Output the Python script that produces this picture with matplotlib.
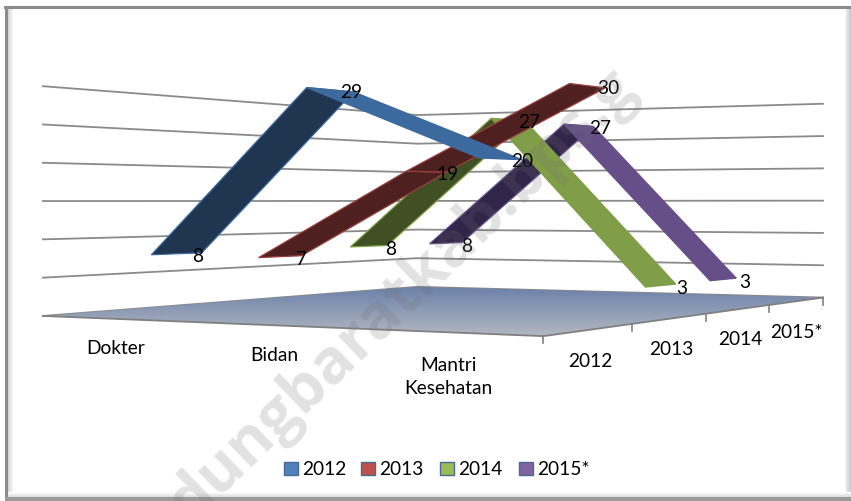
import numpy as np
import matplotlib
matplotlib.use("Agg")
import matplotlib.pyplot as plt
from matplotlib.colors import LinearSegmentedColormap
from matplotlib.patches import Polygon, Rectangle

categories = ["Dokter", "Bidan", "Mantri\nKesehatan"]
series_names = ["2012", "2013", "2014", "2015*"]
values_2012 = [8, 29, 20]
values_2013 = [7, 19, 30]
values_2014 = [8, 27, 3]
values_2015 = [8, 27, 3]
all_values = [values_2012, values_2013, values_2014, values_2015]

top_colors = ["#3d6a9e", "#96403c", "#7f9e47", "#664f88"]
dark_colors = ["#1f3550", "#4f2020", "#404f24", "#31254a"]
legend_colors = ["#4f81bd", "#c0504d", "#9bbb59", "#8064a2"]

plt.rcParams["font.family"] = ["Lato", "DejaVu Sans"]
FS = 13.8
Y_MAX = 30
GRID_STEP = 5
RIBBON = 0.45
CAT_SHIFT = 0.007  # categories sit slightly right of the slot centre

# anchors for the 3d view: (across, depth, value) -> pixel
anchors = [
    ((0, 0, 0), (43, 317)), ((1, 0, 0), (543, 337)), ((1, 1, 0), (823, 298)),
    ((0, 1, 0), (417, 288)), ((0, 0, 30), (43, 87)), ((1, 1, 30), (823, 105)),
    ((0, 1, 30), (417, 116)), ((1, .25, 0), (632, 325)), ((1, .5, 0), (707, 315)),
    ((1, .75, 0), (769, 306)),
]


def fit_view(pairs):
    rows = []
    for (a, b, c), (px, py) in pairs:
        c = c / Y_MAX
        rows.append([a, b, c, 1, 0, 0, 0, 0, -px * a, -px * b, -px * c, -px])
        rows.append([0, 0, 0, 0, a, b, c, 1, -py * a, -py * b, -py * c, -py])
    vt = np.linalg.svd(np.array(rows, dtype=float))[2]
    return vt[-1].reshape(3, 4)


view = fit_view(anchors)


def proj(a, b, c):
    p = view @ np.array([a, b, c / Y_MAX, 1.0])
    return p[0] / p[2], p[1] / p[2]


fig = plt.figure(figsize=(8.51, 5.02), dpi=100)
ax = fig.add_axes([0, 0, 1, 1])
ax.set_xlim(0, 851)
ax.set_ylim(502, 0)
ax.axis("off")

# frame: hard line top and left, soft shadow right and bottom
ax.plot([5.5, 5.5], [8, 500], color="#8c8c8c", lw=2.2, zorder=1.2)
ax.plot([5, 851], [8, 8], color="#8c8c8c", lw=2.2, zorder=1.2)
for i in range(6):
    g = 0.84 + i * 0.03
    ax.plot([7.5 + i, 7.5 + i], [10, 494], color=(g, g, g), lw=1, zorder=1.1)
    ax.plot([850.5 - i, 850.5 - i], [9, 497], color=(g - .08, g - .08, g - .08), lw=1, zorder=1.1)
    ax.plot([7, 851], [497.5 - i, 497.5 - i], color=(g, g, g), lw=1, zorder=1.1)
ax.add_patch(Rectangle((5, 497.5), 846, 4.5, fc="#9a9a9a", ec="none", zorder=1.2))

# walls
for val in range(0, Y_MAX + 1, GRID_STEP):
    pts = [proj(0, 0, val), proj(0, 1, val), proj(1, 1, val)]
    ax.plot(*zip(*pts), color="#8a8a8a", lw=1.3, zorder=2)

# floor
floor = [proj(0, 0, 0), proj(1, 0, 0), proj(1, 1, 0), proj(0, 1, 0)]
floor_cmap = LinearSegmentedColormap.from_list("floor", ["#6b81a9", "#b3b8c2"])
im = ax.imshow(np.linspace(0, 1, 60).reshape(-1, 1), cmap=floor_cmap,
               extent=(43, 823, 338, 287), aspect="auto", zorder=3)
fp = Polygon(floor, closed=True, fc="none", ec="none")
ax.add_patch(fp)
im.set_clip_path(fp)
ax.set_xlim(0, 851)
ax.set_ylim(502, 0)
ax.plot(*zip(floor[0], floor[1], floor[2]), color="#808080", lw=1.3, zorder=3.5)

# ticks on the depth axis
for k in range(5):
    x0, y0 = proj(1, k / 4, 0)
    ax.plot([x0, x0], [y0, y0 + 7], color="#808080", lw=1.2, zorder=3.5)

# ribbons, back series first
n_cat = len(categories)
n_ser = len(series_names)
for s in range(n_ser - 1, -1, -1):
    vals = all_values[s]
    mid = (s + 0.5) / n_ser
    front = (s + 0.5 - RIBBON / 2) / n_ser
    back = (s + 0.5 + RIBBON / 2) / n_ser
    for i in range(n_cat - 1):
        u0 = (i + 0.5) / n_cat + CAT_SHIFT
        u1 = (i + 1.5) / n_cat + CAT_SHIFT
        quad = [proj(u0, front, vals[i]), proj(u0, back, vals[i]),
                proj(u1, back, vals[i + 1]), proj(u1, front, vals[i + 1])]
        face = dark_colors[s] if vals[i + 1] > vals[i] else top_colors[s]
        ax.add_patch(Polygon(quad, closed=True, fc=face, ec=top_colors[s], lw=0.9,
                             zorder=4 + (n_ser - s) * 0.1))
    for i in range(n_cat):
        x, y = proj((i + 0.5) / n_cat + CAT_SHIFT, mid, vals[i])
        ax.text(x + 21, y + 2, str(vals[i]), ha="center", va="center", fontsize=FS,
                color="black", zorder=6)

# axis labels
cat_pos = [(116, 349), (274, 356), (448, 377)]
for name, (x, y) in zip(categories, cat_pos):
    ax.text(x, y, name, ha="center", va="center", fontsize=FS, linespacing=1.45, zorder=6)
ser_pos = [(590, 362), (671, 350), (740, 340), (796, 333)]
for name, (x, y) in zip(series_names, ser_pos):
    ax.text(x, y, name, ha="center", va="center", fontsize=FS, zorder=6)

# legend
leg_x = [284, 361, 440, 519]
for name, x, c in zip(series_names, leg_x, legend_colors):
    ax.add_patch(Rectangle((x, 463), 14, 13, fc=c, ec="#4a6a90", lw=1, zorder=6))
    ax.text(x + 18, 470, name, ha="left", va="center", fontsize=FS, zorder=6)

# watermark, cut at the frame like the original
wm = ax.text(403, 296, "dungbaratkab.bps.g", rotation=44, rotation_mode="anchor", ha="center", va="center",
             fontsize=45, fontweight="bold", family="Open Sans", color="#707070", alpha=0.2, zorder=7)
wm.set_clip_path(Rectangle((7, 9), 844, 488, transform=ax.transData))

fig.savefig("out.png", dpi=100)
